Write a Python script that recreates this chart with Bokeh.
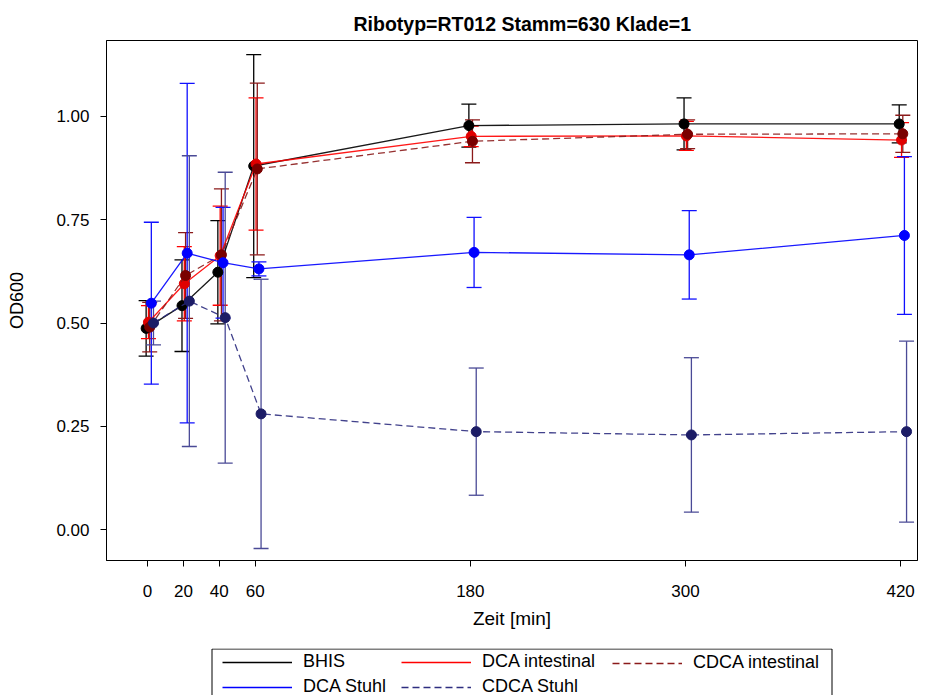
from bokeh.plotting import figure
from bokeh.layouts import column
from bokeh.models import (ColumnDataSource, Whisker, TeeHead, FixedTicker,
                          NumeralTickFormatter, Legend, LegendItem, Range1d,
                          BoxAnnotation)
from bokeh.embed import file_html
from bokeh.resources import INLINE

# ---- data ----
times = [0, 20, 40, 60, 180, 300, 420]
x_ticks = [0, 20, 40, 60, 180, 300, 420]
y_ticks = [0.0, 0.25, 0.5, 0.75, 1.0]

series_names = ["BHIS", "DCA intestinal", "CDCA intestinal", "DCA Stuhl", "CDCA Stuhl"]

bhis_mean = [0.487, 0.542, 0.623, 0.880, 0.978, 0.982, 0.982]
bhis_err = [0.067, 0.111, 0.125, 0.270, 0.052, 0.063, 0.046]

dca_int_mean = [0.502, 0.595, 0.663, 0.885, 0.952, 0.953, 0.943]
dca_int_err = [0.040, 0.090, 0.120, 0.160, 0.025, 0.035, 0.042]

cdca_int_mean = [0.490, 0.615, 0.665, 0.873, 0.940, 0.957, 0.958]
cdca_int_err = [0.060, 0.104, 0.160, 0.208, 0.052, 0.035, 0.045]

dca_stuhl_mean = [0.548, 0.669, 0.646, 0.631, 0.671, 0.665, 0.712]
dca_stuhl_err = [0.196, 0.411, 0.134, 0.017, 0.085, 0.107, 0.191]

cdca_stuhl_mean = [0.500, 0.553, 0.513, 0.280, 0.237, 0.229, 0.237]
cdca_stuhl_err = [0.053, 0.352, 0.352, 0.326, 0.154, 0.187, 0.219]

means = [bhis_mean, dca_int_mean, cdca_int_mean, dca_stuhl_mean, cdca_stuhl_mean]
errs = [bhis_err, dca_int_err, cdca_int_err, dca_stuhl_err, cdca_stuhl_err]

# ---- styles ----
line_colors = ["#000000", "#FF0000", "#8B1A1A", "#0000FF", "#2E2E80"]
marker_colors = ["#000000", "#E00000", "#7A0000", "#0000FF", "#1C1C66"]
err_colors = ["#000000", "#FF0000", "#8B1A1A", "#1010FF", "#4A4A96"]
dashes = ["solid", "solid", "7 4", "solid", "7 4"]
dodge = [-0.8, 0.5, 1.2, 2.1, 3.3]
# legend layout: column of each series in the legend strip, column offsets (px)
legend_col = [0, 1, 2, 0, 1]
legend_col_x = [116, 295, 506]
legend_col_y = [-2, -2, 22]

FONT = "Liberation Sans"

p = figure(frame_width=811, frame_height=520, output_backend="svg",
           toolbar_location=None,
           x_range=Range1d(-22.9, 429.4), y_range=Range1d(-0.075, 1.184),
           min_border_left=106, min_border_right=12, min_border_top=40,
           min_border_bottom=88)

p.title.text = "Ribotyp=RT012 Stamm=630 Klade=1"
p.title.text_font = FONT
p.title.text_font_style = "bold"
p.title.text_font_size = "19.5px"
p.title.align = "left"
p.title.offset = 247
p.title.standoff = 11
p.title.text_color = "#000000"

p.xgrid.visible = False
p.ygrid.visible = False
p.outline_line_color = "#000000"
p.outline_line_width = 1
p.background_fill_color = "white"
p.border_fill_color = "white"

for ax in (p.xaxis[0], p.yaxis[0]):
    ax.major_label_text_font = FONT
    ax.major_label_text_font_size = "17px"
    ax.major_label_text_color = "#000000"
    ax.axis_label_text_font = FONT
    ax.axis_label_text_font_style = "normal"
    ax.axis_label_text_color = "#000000"
    ax.minor_tick_line_color = None
    ax.major_tick_out = 6
    ax.major_tick_in = 0
    ax.axis_line_color = "#000000"
    ax.major_tick_line_color = "#000000"

p.xaxis.ticker = FixedTicker(ticks=x_ticks)
p.yaxis.ticker = FixedTicker(ticks=y_ticks)
p.yaxis.formatter = NumeralTickFormatter(format="0.00")
p.xaxis.axis_label = "Zeit [min]"
p.yaxis.axis_label = "OD600"
p.xaxis.axis_label_text_font_size = "19px"
p.yaxis.axis_label_text_font_size = "18px"
p.xaxis.major_label_standoff = 18
p.xaxis.axis_label_standoff = 8
p.yaxis.major_label_standoff = 11
p.yaxis.axis_label_standoff = 26

# legend-only strip below the chart (frame aligned with the chart's frame,
# coordinates = page pixels, so the series' own data lies outside its view)
lf = figure(frame_width=811, frame_height=47, output_backend="svg",
            toolbar_location=None,
            x_range=Range1d(106, 917), y_range=Range1d(-695, -648),
            min_border_left=106, min_border_right=12, min_border_top=0,
            min_border_bottom=0)
lf.axis.visible = False
lf.xgrid.visible = False
lf.ygrid.visible = False
lf.outline_line_color = None
lf.background_fill_color = "white"
lf.border_fill_color = "white"

col_items = [[], [], []]
for name, m, e, lc, mc, ec, dash, dx, lcol in zip(series_names, means, errs,
                                                  line_colors, marker_colors,
                                                  err_colors, dashes, dodge,
                                                  legend_col):
    xs = [t + dx for t in times]
    src = ColumnDataSource(dict(x=xs, y=m,
                                upper=[a + b for a, b in zip(m, e)],
                                lower=[a - b for a, b in zip(m, e)]))
    w = Whisker(source=src, base="x", upper="upper", lower="lower",
                line_color=ec, line_width=1.3,
                upper_head=TeeHead(size=15, line_color=ec, line_width=1.3),
                lower_head=TeeHead(size=15, line_color=ec, line_width=1.3))
    p.add_layout(w)
    p.line("x", "y", source=src, line_color=lc, line_width=1.3,
           line_dash=dash, line_alpha=0.9)
    p.scatter("x", "y", source=src, size=10, fill_color=mc, line_color=mc)
    # matching legend key in the strip (its data falls outside the strip's view)
    r = lf.line("x", "y", source=src, line_color=lc, line_width=1.3,
                line_dash=dash)
    col_items[lcol].append(LegendItem(label=name, renderers=[r]))

lf.add_layout(BoxAnnotation(left=211.5, right=831.5, top=-648.5, bottom=-720,
                            fill_color=None, fill_alpha=0,
                            line_color="#000000", line_alpha=1.0, line_width=1))

for its, lx, ly in zip(col_items, legend_col_x, legend_col_y):
    lg = Legend(items=its, orientation="vertical", location=(lx, ly),
                label_text_font=FONT, label_text_font_size="18px",
                label_text_color="#000000", label_text_baseline="middle",
                glyph_width=70, glyph_height=20, label_height=20,
                label_standoff=11, spacing=4, padding=0, margin=0,
                border_line_color=None, background_fill_alpha=0)
    lf.add_layout(lg)

layout = column(p, lf, spacing=0)
open("out.html", "w").write(file_html(layout, INLINE))
